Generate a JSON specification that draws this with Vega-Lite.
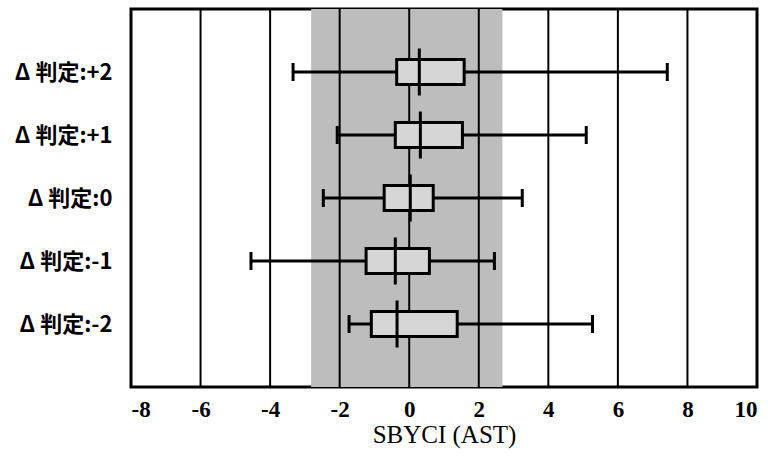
{
  "$schema": "https://vega.github.io/schema/vega-lite/v6.json",
  "width": 626,
  "height": 378,
  "autosize": {"type": "none"},
  "padding": {"left": 131, "top": 9, "right": 11, "bottom": 73},
  "background": "white",
  "config": {
    "view": {"stroke": "black", "strokeWidth": 3},
    "axis": {"domain": false, "ticks": false, "grid": false}
  },
  "datasets": {
    "stats": [
      {"group": "Δ 判定:+2", "wlo": -3.34, "q1": -0.36, "med": 0.29, "q3": 1.58, "whi": 7.42},
      {"group": "Δ 判定:+1", "wlo": -2.07, "q1": -0.40, "med": 0.32, "q3": 1.53, "whi": 5.09},
      {"group": "Δ 判定:0", "wlo": -2.47, "q1": -0.72, "med": 0.03, "q3": 0.69, "whi": 3.25},
      {"group": "Δ 判定:-1", "wlo": -4.55, "q1": -1.24, "med": -0.40, "q3": 0.58, "whi": 2.45},
      {"group": "Δ 判定:-2", "wlo": -1.73, "q1": -1.09, "med": -0.35, "q3": 1.38, "whi": 5.27}
    ],
    "band": [{"lo": -2.82, "hi": 2.68}],
    "grid": [{"v": -6}, {"v": -4}, {"v": -2}, {"v": 0}, {"v": 2}, {"v": 4}, {"v": 6}, {"v": 8}]
  },
  "layer": [
    {
      "data": {"name": "band"},
      "mark": {"type": "rect", "color": "#bdbdbd"},
      "encoding": {
        "x": {
          "field": "lo", "type": "quantitative",
          "scale": {"domain": [-8, 10], "nice": false},
          "axis": {
            "values": [-8, -6, -4, -2, 0, 2, 4, 6, 8, 10],
            "labelExpr": "'' + datum.value",
            "title": "SBYCI (AST)",
            "labelFont": "Liberation Serif", "labelFontSize": 23, "labelFontWeight": "bold",
            "labelColor": "black", "labelPadding": 11,
            "titleFont": "Liberation Serif", "titleFontSize": 25, "titleFontWeight": "normal",
            "titleColor": "black", "titlePadding": 1
          }
        },
        "x2": {"field": "hi"}
      }
    },
    {
      "data": {"name": "grid"},
      "mark": {"type": "rule", "color": "black", "strokeWidth": 2},
      "encoding": {"x": {"field": "v", "type": "quantitative"}}
    },
    {
      "data": {"name": "stats"},
      "layer": [
        {
          "mark": {"type": "rule", "color": "black", "strokeWidth": 3},
          "encoding": {
            "y": {
              "field": "group", "type": "ordinal", "sort": null,
              "scale": {"type": "point", "padding": 1},
              "axis": {
                "title": null,
                "labelFont": "Noto Sans CJK JP",
                "labelFontSize": 22, "labelFontWeight": "bold",
                "labelColor": "black", "labelPadding": 19
              }
            },
            "x": {"field": "wlo", "type": "quantitative"},
            "x2": {"field": "whi"}
          }
        },
        {
          "mark": {"type": "tick", "color": "black", "opacity": 1, "thickness": 3, "size": 18},
          "encoding": {
            "y": {"field": "group", "type": "ordinal", "sort": null},
            "x": {"field": "wlo", "type": "quantitative"}
          }
        },
        {
          "mark": {"type": "tick", "color": "black", "opacity": 1, "thickness": 3, "size": 18},
          "encoding": {
            "y": {"field": "group", "type": "ordinal", "sort": null},
            "x": {"field": "whi", "type": "quantitative"}
          }
        },
        {
          "mark": {"type": "bar", "fill": "#d6d6d6", "opacity": 1, "stroke": "black", "strokeWidth": 3, "size": 25},
          "encoding": {
            "y": {"field": "group", "type": "ordinal", "sort": null},
            "x": {"field": "q1", "type": "quantitative"},
            "x2": {"field": "q3"}
          }
        },
        {
          "mark": {"type": "tick", "color": "black", "opacity": 1, "thickness": 3, "size": 47},
          "encoding": {
            "y": {"field": "group", "type": "ordinal", "sort": null},
            "x": {"field": "med", "type": "quantitative"}
          }
        }
      ]
    }
  ]
}
